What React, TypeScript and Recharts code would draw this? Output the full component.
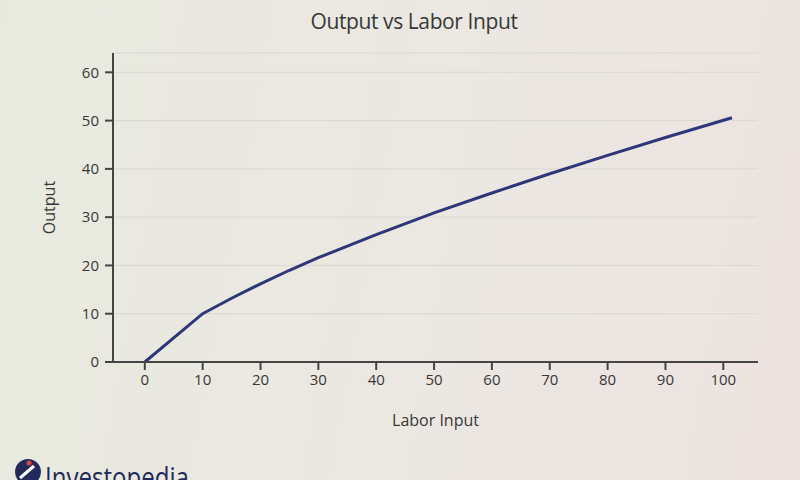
import React from 'react';
import { LineChart, Line, XAxis, YAxis, CartesianGrid, Label } from 'recharts';

const laborInput = [0, 10, 15, 20, 25, 30, 40, 50, 60, 70, 80, 90, 101.5];
const outputValues = [0, 10, 13.2, 16.2, 19.0, 21.6, 26.4, 30.9, 35.0, 39.0, 42.8, 46.5, 50.6];
const xTicks = [0, 10, 20, 30, 40, 50, 60, 70, 80, 90, 100];
const yTicks = [0, 10, 20, 30, 40, 50, 60];

const data = laborInput.map((x, i) => ({ labor: x, output: outputValues[i] }));

const FONT = '"Open Sans", "Noto Sans", sans-serif';
const TEXT = '#383836';

const Logo = () => (
    <svg width={260} height={40} style={{ position: 'absolute', left: 0, top: 448 }}>
        <circle cx={28} cy={24} r={13} fill="#23295a" />
        <path d="M20 30 L34 18" stroke="#fff" strokeWidth={3} />
        <circle cx={29} cy={15} r={2.5} fill="#e0443e" />
        <text x={45} y={40} fontFamily={FONT} fontSize={30} fill="#23295a" textLength={144} lengthAdjust="spacingAndGlyphs">
            Investopedia
        </text>
    </svg>
);

export default function App() {
    return (
        <div
            style={{
                position: 'relative',
                width: 800,
                height: 480,
                overflow: 'hidden',
                background: 'linear-gradient(100deg, #e8eadf 0%, #ebe8e2 45%, #ede3e1 100%)',
                fontFamily: FONT,
            }}
        >
            <style>{'body{margin:0}'}</style>
            <div
                style={{
                    position: 'absolute',
                    top: 7,
                    left: 14,
                    width: 800,
                    textAlign: 'center',
                    fontSize: 21,
                    color: TEXT,
                    letterSpacing: -0.4,
                }}
            >
                Output vs Labor Input
            </div>
            <LineChart width={800} height={480} data={data} margin={{ top: 53, right: 42, bottom: 88, left: 53 }}>
                <CartesianGrid horizontal vertical={false} stroke="#d9d9d2" strokeWidth={1} />
                <XAxis
                    dataKey="labor"
                    type="number"
                    domain={[-5.5, 106]}
                    ticks={xTicks}
                    height={30}
                    axisLine={{ stroke: '#444', strokeWidth: 2 }}
                    tickLine={{ stroke: '#444', strokeWidth: 2 }}
                    tickSize={8}
                    tick={{ fill: TEXT, fontSize: 15, fontFamily: FONT }}
                    tickMargin={4}
                >
                    <Label value="Labor Input" position="insideBottom" offset={-34} fill={TEXT} fontSize={16} fontFamily={FONT} />
                </XAxis>
                <YAxis
                    type="number"
                    domain={[0, 64]}
                    ticks={yTicks}
                    width={60}
                    axisLine={{ stroke: '#444', strokeWidth: 2 }}
                    tickLine={{ stroke: '#444', strokeWidth: 2 }}
                    tickSize={8}
                    tick={{ fill: TEXT, fontSize: 15, fontFamily: FONT }}
                    tickMargin={6}
                >
                    <Label value="Output" angle={-90} position="insideLeft" offset={-4} fill={TEXT} fontSize={16} fontFamily={FONT} style={{ textAnchor: 'middle' }} />
                </YAxis>
                <Line
                    type="linear"
                    dataKey="output"
                    stroke="#2f3679"
                    strokeWidth={3}
                    dot={false}
                    isAnimationActive={false}
                />
            </LineChart>
            <Logo />
        </div>
    );
}
